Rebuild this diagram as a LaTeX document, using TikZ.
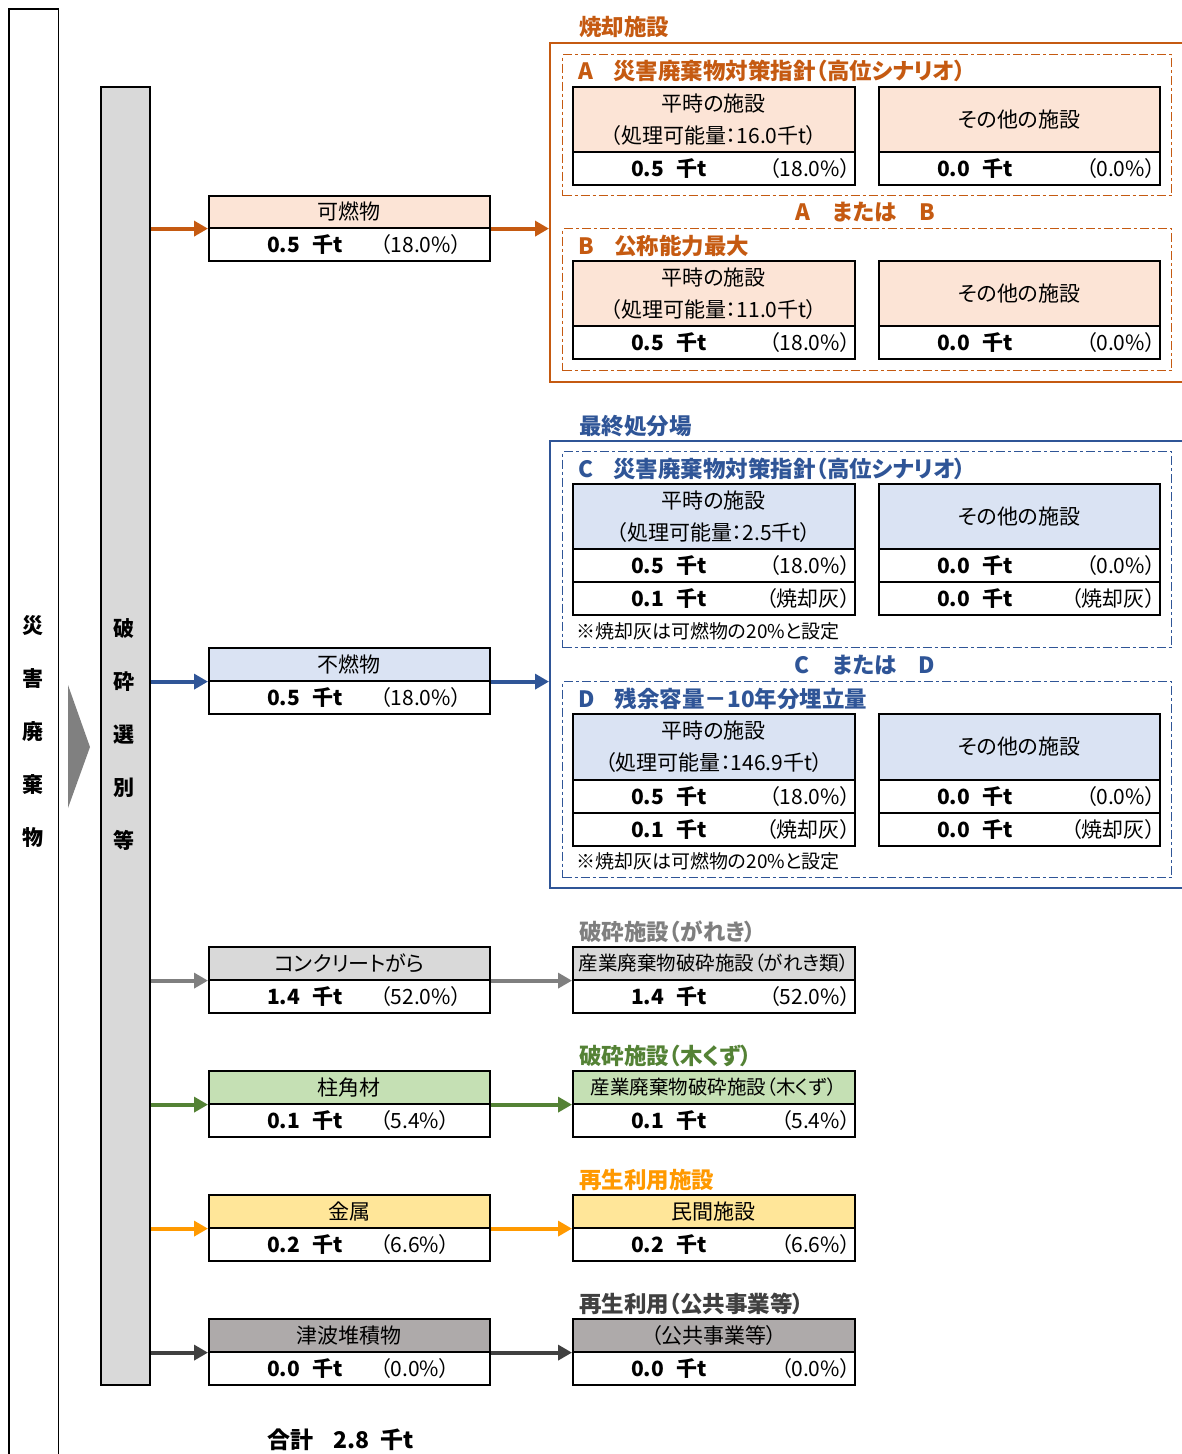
\documentclass[tikz,border=0pt]{standalone}
\usepackage{fontspec}
\setmainfont{Noto Sans CJK JP}[RawFeature=+palt]
\usetikzlibrary{arrows.meta,calc}
\definecolor{orgD}{HTML}{C55A11}
\definecolor{peach}{HTML}{FCE4D6}
\definecolor{bluD}{HTML}{2F5597}
\definecolor{bluL}{HTML}{DAE3F3}
\definecolor{gryD}{HTML}{7F7F7F}
\definecolor{gryL}{HTML}{D9D9D9}
\definecolor{grnD}{HTML}{548235}
\definecolor{grnL}{HTML}{C5E0B4}
\definecolor{yelD}{HTML}{FF9900}
\definecolor{yelL}{HTML}{FFE699}
\definecolor{drkD}{HTML}{404040}
\definecolor{drkL}{HTML}{AEAAAA}
\definecolor{triG}{HTML}{808080}
\tikzset{
  every node/.style={font=\fontsize{21}{25}\selectfont, inner sep=0pt},
  boxst/.style={draw=black, line width=1.6pt, rectangle, inner sep=0pt},
  arr/.style={line width=3.8pt, -{Triangle[length=14pt,width=15pt]}},
  dashdot/.style={line width=1.3pt, dash pattern=on 9pt off 3pt on 3pt off 3pt},
  grp/.style={line width=1.8pt},
  ttl/.style={anchor=west, font=\fontsize{22.5}{26}\selectfont\bfseries},
}
% header box: name, x,y, width, height, fill, text
\newcommand{\HB}[6]{\node[boxst, fill=#5, minimum width=#3, minimum height=#4, anchor=north west, align=center, font=\fontsize{21}{32}\selectfont] (#1) at (#2) {#6};}
% value row, pct right aligned: name, x,y, width, number, pct
\newcommand{\VR}[5]{%
  \node[boxst, fill=white, minimum width=#3, minimum height=33, anchor=north west] (#1) at (#2) {};
  \node[anchor=west] (#1n) at ($(#1.west)+(59,0)$) {\bfseries #4\hspace{0.6em}千t};
  \node[anchor=east] (#1p) at ($(#1.east)+(-5,0)$) {#5};}
% value row, pct left aligned
\newcommand{\VL}[5]{%
  \node[boxst, fill=white, minimum width=#3, minimum height=33, anchor=north west] (#1) at (#2) {};
  \node[anchor=west] (#1n) at ($(#1.west)+(59,0)$) {\bfseries #4\hspace{0.6em}千t};
  \node[anchor=west] (#1p) at ($(#1.west)+(172,0)$) {#5};}
\begin{document}
\begin{tikzpicture}[x=1pt,y=-1pt]
\useasboundingbox (0,0) rectangle (1182,1454);
% ---- left frame
\node[minimum width=49, minimum height=1460, anchor=north west] (src) at (9,9) {};
\draw[line width=1.6pt] (src.south west) -- (src.north west) -- (src.north east) -- (src.south east);
\node[align=center, font=\fontsize{21}{53}\selectfont\bfseries] (srct) at (33,732) {災\\害\\廃\\棄\\物};
\fill[triG] (68,685) -- (90,747) -- (68,808) -- cycle;
% ---- sorting bar
\node[boxst, fill=gryL, minimum width=49, minimum height=1298, anchor=north west] (sort) at (100,86) {};
\node[align=center, font=\fontsize{21}{53}\selectfont\bfseries] (sortt) at (124,735) {破\\砕\\選\\別\\等};
% ---- left column
\HB{kh}{208,195}{281}{32}{peach}{可燃物}
\VL{kv}{208,227}{281}{0.5}{（18.0\%）}
\HB{fh}{208,647}{281}{33}{bluL}{不燃物}
\VL{fv}{208,680}{281}{0.5}{（18.0\%）}
\HB{ch}{208,946}{281}{33}{gryL}{コンクリートがら}
\VL{cv}{208,979}{281}{1.4}{（52.0\%）}
\HB{wh}{208,1070}{281}{33}{grnL}{柱角材}
\VL{wv}{208,1103}{281}{0.1}{（5.4\%）}
\HB{mh}{208,1194}{281}{33}{yelL}{金属}
\VL{mv}{208,1227}{281}{0.2}{（6.6\%）}
\HB{th}{208,1318}{281}{33}{drkL}{津波堆積物}
\VL{tv}{208,1351}{281}{0.0}{（0.0\%）}
\node[anchor=west, font=\fontsize{23}{26}\selectfont\bfseries] (total) at (267,1440) {合計\hspace{0.9em}2.8\hspace{0.45em}千t};
% ---- incineration group
\node[ttl, text=orgD] (incT) at (579,27) {焼却施設};
\node[draw=orgD, grp, minimum width=633, minimum height=339, anchor=north west] (inc) at (549,42) {};
\node[draw=orgD, dashdot, minimum width=609, minimum height=141, anchor=north west] (grpA) at (562,54) {};
\node[ttl, text=orgD] (grpAt) at (578,71) {A\hspace{0.9em}災害廃棄物対策指針（高位シナリオ）};
\HB{aLh}{572,86}{282}{65}{peach}{平時の施設\\（処理可能量：16.0千t）}
\VR{aLv}{572,151}{282}{0.5}{（18.0\%）}
\HB{aRh}{878,86}{281}{65}{peach}{その他の施設}
\VR{aRv}{878,151}{281}{0.0}{（0.0\%）}
\node[font=\fontsize{22.5}{26}\selectfont\bfseries, text=orgD] (orAB) at (865,212) {A\hspace{1em}または\hspace{1em}B};
\node[draw=orgD, dashdot, minimum width=609, minimum height=142, anchor=north west] (grpB) at (562,228) {};
\node[ttl, text=orgD] (grpBt) at (578,246) {B\hspace{0.9em}公称能力最大};
\HB{bLh}{572,260}{282}{65}{peach}{平時の施設\\（処理可能量：11.0千t）}
\VR{bLv}{572,325}{282}{0.5}{（18.0\%）}
\HB{bRh}{878,260}{281}{65}{peach}{その他の施設}
\VR{bRv}{878,325}{281}{0.0}{（0.0\%）}
% ---- landfill group
\node[ttl, text=bluD] (lanT) at (579,426) {最終処分場};
\node[draw=bluD, grp, minimum width=633, minimum height=447, anchor=north west] (lan) at (549,440) {};
\node[draw=bluD, dashdot, minimum width=609, minimum height=196, anchor=north west] (grpC) at (562,451) {};
\node[ttl, text=bluD] (grpCt) at (578,469) {C\hspace{0.9em}災害廃棄物対策指針（高位シナリオ）};
\HB{cLh}{572,483}{282}{65}{bluL}{平時の施設\\（処理可能量：2.5千t）}
\VR{cLv}{572,548}{282}{0.5}{（18.0\%）}
\VR{cLw}{572,581}{282}{0.1}{（焼却灰）}
\HB{cRh}{878,483}{281}{65}{bluL}{その他の施設}
\VR{cRv}{878,548}{281}{0.0}{（0.0\%）}
\VR{cRw}{878,581}{281}{0.0}{（焼却灰）}
\node[anchor=west, font=\fontsize{19}{22}\selectfont] (noteC) at (576,631) {※焼却灰は可燃物の20\%と設定};
\node[font=\fontsize{22.5}{26}\selectfont\bfseries, text=bluD] (orCD) at (865,665) {C\hspace{1em}または\hspace{1em}D};
\node[draw=bluD, dashdot, minimum width=609, minimum height=196, anchor=north west] (grpD) at (562,681) {};
\node[ttl, text=bluD] (grpDt) at (578,699) {D\hspace{0.9em}残余容量－10年分埋立量};
\HB{dLh}{572,713}{282}{66}{bluL}{平時の施設\\（処理可能量：146.9千t）}
\VR{dLv}{572,779}{282}{0.5}{（18.0\%）}
\VR{dLw}{572,812}{282}{0.1}{（焼却灰）}
\HB{dRh}{878,713}{281}{66}{bluL}{その他の施設}
\VR{dRv}{878,779}{281}{0.0}{（0.0\%）}
\VR{dRw}{878,812}{281}{0.0}{（焼却灰）}
\node[anchor=west, font=\fontsize{19}{22}\selectfont] (noteD) at (576,861) {※焼却灰は可燃物の20\%と設定};
% ---- crushing (rubble)
\node[ttl, text=gryD] (crT) at (579,932) {破砕施設（がれき）};
\HB{crh}{572,946}{282}{33}{gryL}{\fontsize{19.5}{22}\selectfont 産業廃棄物破砕施設（がれき類）}
\VR{crv}{572,979}{282}{1.4}{（52.0\%）}
% ---- crushing (wood)
\node[ttl, text=grnD] (cwT) at (579,1056) {破砕施設（木くず）};
\HB{cwh}{572,1070}{282}{33}{grnL}{\fontsize{19.5}{22}\selectfont 産業廃棄物破砕施設（木くず）}
\VR{cwv}{572,1103}{282}{0.1}{（5.4\%）}
% ---- recycling
\node[ttl, text=yelD] (rcT) at (579,1180) {再生利用施設};
\HB{rch}{572,1194}{282}{33}{yelL}{民間施設}
\VR{rcv}{572,1227}{282}{0.2}{（6.6\%）}
% ---- public works
\node[ttl, text=drkD] (puT) at (579,1304) {再生利用（公共事業等）};
\HB{puh}{572,1318}{282}{33}{drkL}{（公共事業等）}
\VR{puv}{572,1351}{282}{0.0}{（0.0\%）}
% ---- arrows
\draw[arr, orgD] (sort.east |- kh.south west) -- (kh.south west);
\draw[arr, orgD] (kh.south east) -- (inc.west |- kh.south east);
\draw[arr, bluD] (sort.east |- fh.south west) -- (fh.south west);
\draw[arr, bluD] (fh.south east) -- (lan.west |- fh.south east);
\draw[arr, gryD] (sort.east |- ch.south west) -- (ch.south west);
\draw[arr, gryD] (ch.south east) -- (crh.south west);
\draw[arr, grnD] (sort.east |- wh.south west) -- (wh.south west);
\draw[arr, grnD] (wh.south east) -- (cwh.south west);
\draw[arr, yelD] (sort.east |- mh.south west) -- (mh.south west);
\draw[arr, yelD] (mh.south east) -- (rch.south west);
\draw[arr, drkD] (sort.east |- th.south west) -- (th.south west);
\draw[arr, drkD] (th.south east) -- (puh.south west);
\end{tikzpicture}
\end{document}
